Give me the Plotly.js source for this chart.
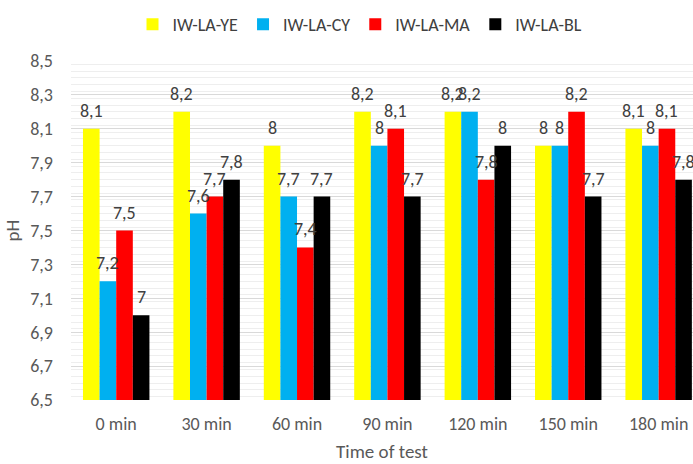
<!DOCTYPE html>
<html>
<head>
<meta charset="utf-8">
<script src="https://cdn.plot.ly/plotly-3.0.1.min.js"></script>
<style>
  html, body { margin: 0; padding: 0; background: #fff; }
  #chart { width: 693px; height: 464px; }
</style>
</head>
<body>
<div id="chart"></div>
<script>
// pH readings per sample over the test duration
const times = ['0 min', '30 min', '60 min', '90 min', '120 min', '150 min', '180 min'];
const seriesNames = ['IW-LA-YE', 'IW-LA-CY', 'IW-LA-MA', 'IW-LA-BL'];
const phYE = [8.1, 8.2, 8.0, 8.2, 8.2, 8.0, 8.1];
const phCY = [7.2, 7.6, 7.7, 8.0, 8.2, 8.0, 8.0];
const phMA = [7.5, 7.7, 7.4, 8.1, 7.8, 8.2, 8.1];
const phBL = [7.0, 7.8, 7.7, 7.7, 8.0, 7.7, 7.8];
const seriesColors = ['#FFFF00', '#00B0F0', '#FF0000', '#000000'];

const allSeries = [phYE, phCY, phMA, phBL];
const FONT = 'Carlito, "Noto Sans", sans-serif';

const W = 693, H = 464;
const margin = { l: 71, r: 0, t: 61, b: 64 };
const xRange = [-0.5, 6.38];
const bargap = 0.265;

const traces = allSeries.map((vals, i) => ({
  type: 'bar',
  name: seriesNames[i],
  x: times,
  y: vals,
  marker: { color: seriesColors[i] },
  hoverinfo: 'skip'
}));

// value labels above each bar, offset horizontally to their bar inside the group
const plotW = W - margin.l - margin.r;
const pxPerCat = plotW / (xRange[1] - xRange[0]);
const barPx = pxPerCat * (1 - bargap) / allSeries.length;
const annotations = [];
allSeries.forEach((vals, i) => {
  const shift = (i - (allSeries.length - 1) / 2) * barPx;
  vals.forEach((v, j) => {
    annotations.push({
      x: times[j], y: v, xref: 'x', yref: 'y',
      text: String(v).replace('.', ','),
      showarrow: false,
      xshift: shift, yshift: 18,
      xanchor: 'center', yanchor: 'middle',
      font: { family: FONT, size: 18, color: '#404040' }
    });
  });
});

const layout = {
  width: W, height: H,
  margin: margin,
  paper_bgcolor: '#ffffff',
  plot_bgcolor: '#ffffff',
  separators: ',.',
  barmode: 'group',
  bargap: bargap,
  bargroupgap: 0,
  font: { family: FONT, color: '#595959', size: 18 },
  showlegend: true,
  legend: {
    orientation: 'h',
    x: 360 / W, xref: 'container', xanchor: 'center',
    y: 1 - 6 / H, yref: 'container', yanchor: 'top',
    font: { family: FONT, size: 18, color: '#404040' },
    tracegroupgap: 0
  },
  xaxis: {
    type: 'category',
    range: xRange,
    showgrid: false,
    zeroline: false,
    showline: false,
    ticks: '',
    ticklabelstandoff: 11,
    tickfont: { family: FONT, size: 18, color: '#595959' },
    title: { text: 'Time of test', font: { family: FONT, size: 19, color: '#595959' }, standoff: 10 }
  },
  yaxis: {
    range: [6.5, 8.5],
    tick0: 6.5, dtick: 0.2,
    tickformat: '.1f',
    showgrid: true, gridcolor: '#d9d9d9', gridwidth: 1,
    minor: { dtick: 0.04, showgrid: true, gridcolor: '#eeeeee', gridwidth: 1 },
    zeroline: false,
    showline: false,
    ticks: '',
    ticklabelstandoff: 17,
    tickfont: { family: FONT, size: 18, color: '#595959' },
    title: { text: 'pH', font: { family: FONT, size: 19, color: '#595959' }, standoff: 5 }
  },
  annotations: annotations
};

Plotly.newPlot('chart', traces, layout, { displayModeBar: false, staticPlot: true });
</script>
</body>
</html>
